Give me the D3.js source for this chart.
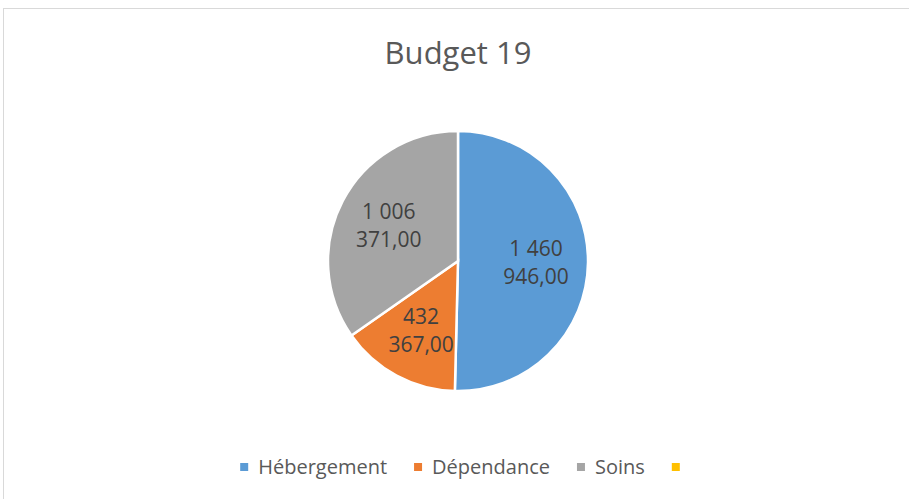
<!DOCTYPE html>
<html>
<head>
<meta charset="utf-8">
<script src="https://cdn.jsdelivr.net/npm/d3@7"></script>
<style>
  body { margin: 0; background: #fff; }
  svg { display: block; font-family: "Open Sans", sans-serif; }
</style>
</head>
<body>
<div id="graphic"></div>
<script>
// chart data
var categories = ["Hébergement", "Dépendance", "Soins", ""];
var values = [1460946, 432367, 1006371, 0];
var colors = ["#5B9BD5", "#ED7D31", "#A5A5A5", "#FFC000"];
var title = "Budget 19";

var width = 909, height = 499;
var cx = 458, cy = 261, radius = 130;

var svg = d3.select("#graphic").append("svg")
  .attr("width", width)
  .attr("height", height);

// chart frame
svg.append("rect")
  .attr("x", 3.5).attr("y", 8.5)
  .attr("width", width + 10).attr("height", height + 10)
  .attr("fill", "#fff")
  .attr("stroke", "#d9d9d9");

svg.append("text")
  .attr("x", cx).attr("y", 64)
  .attr("text-anchor", "middle")
  .attr("font-size", 31)
  .attr("fill", "#595959")
  .text(title);

var data = categories.map(function(c, i) { return {name: c, value: values[i], color: colors[i]}; });

var pie = d3.pie().sort(null).value(function(d) { return d.value; });
var arc = d3.arc().innerRadius(0).outerRadius(radius);
var labelArc = d3.arc().innerRadius(radius * 0.6).outerRadius(radius * 0.6);

var fmt = function(v) {
  // french style: space thousands separator, comma decimals
  var s = d3.format(",.2f")(v);
  return s.replace(/,/g, " ").replace(".", ",");
};

var g = svg.append("g").attr("transform", "translate(" + cx + "," + cy + ")");
var arcs = pie(data).filter(function(d) { return d.data.value > 0; });

g.selectAll("path")
  .data(arcs)
  .enter().append("path")
  .attr("d", arc)
  .attr("fill", function(d) { return d.data.color; })
  .attr("stroke", "#fff")
  .attr("stroke-width", 2.5);

g.selectAll(".lbl")
  .data(arcs)
  .enter().append("text")
  .attr("class", "lbl")
  .attr("transform", function(d) { return "translate(" + labelArc.centroid(d) + ")"; })
  .attr("text-anchor", "middle")
  .attr("font-size", 21)
  .attr("fill", "#404040")
  .each(function(d) {
    var s = fmt(d.data.value);
    var idx = s.lastIndexOf(" ");
    var l1 = s.slice(0, idx), l2 = s.slice(idx + 1);
    if (idx < 0) { l1 = s; l2 = ""; }
    var t = d3.select(this);
    t.append("tspan").attr("x", 0).attr("y", -6).text(l1);
    t.append("tspan").attr("x", 0).attr("y", 22).text(l2);
  });

// legend
var legend = svg.append("g");
var xpos = 0;
data.forEach(function(d) {
  var item = legend.append("g").attr("transform", "translate(" + xpos + ",0)");
  item.append("rect")
    .attr("x", 0).attr("y", 463)
    .attr("width", 8).attr("height", 8)
    .attr("fill", d.color);
  var t = item.append("text")
    .attr("x", 18).attr("y", 474)
    .attr("font-size", 20)
    .attr("fill", "#595959")
    .text(d.name);
  var w = d.name ? t.node().getComputedTextLength() : 0;
  xpos += 18 + w + 27;
});
var total = xpos - 27 - 10;
legend.attr("transform", "translate(" + (cx + 2 - total / 2) + ",0)");
</script>
</body>
</html>
